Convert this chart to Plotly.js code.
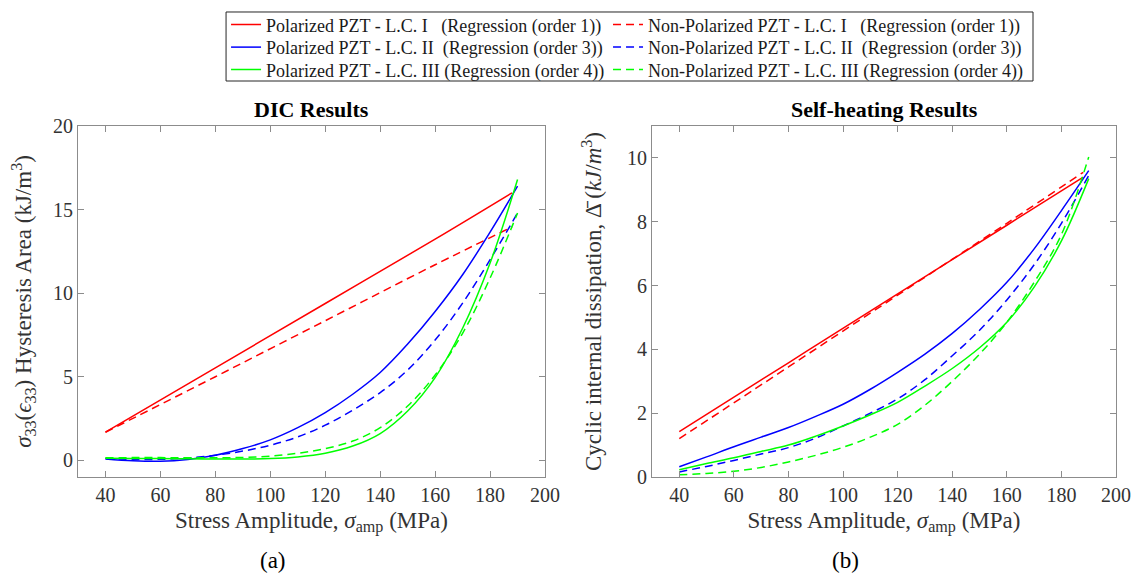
<!DOCTYPE html>
<html>
<head>
<meta charset="utf-8">
<script src="https://cdn.plot.ly/plotly-3.0.1.min.js"></script>
<style>html,body{margin:0;padding:0;background:#fff;}</style>
</head>
<body>
<div id="chart" style="width:1137px;height:574px;"></div>
<script>
// ---- data ----
const xStress = [40, 50, 60, 70, 80, 90, 100, 110, 120, 130, 140, 150, 160, 170, 180, 190];
const xLinear = [40, 80, 120, 160, 188];

// (a) DIC results : hysteresis area (kJ/m^3)
const dicPolI    = [1.68, 5.53, 9.38, 13.23, 16.0];
const dicNonI    = [1.68, 5.0, 8.35, 11.7, 13.96];
const dicPolII   = [0.08, -0.03, -0.06, 0.05, 0.3, 0.7, 1.22, 1.95, 2.85, 3.95, 5.25, 6.95, 8.9, 11.1, 13.65, 16.4];
const dicNonII   = [0.1, 0.05, 0.06, 0.14, 0.3, 0.55, 0.9, 1.4, 2.1, 3.0, 4.05, 5.4, 7.2, 9.4, 12.0, 14.8];
const dicPolIII  = [0.12, 0.11, 0.1, 0.09, 0.08, 0.08, 0.1, 0.2, 0.42, 0.85, 1.6, 2.95, 4.95, 7.9, 11.8, 16.8];
const dicNonIII  = [0.15, 0.16, 0.16, 0.15, 0.15, 0.17, 0.25, 0.42, 0.7, 1.15, 1.95, 3.25, 5.1, 7.6, 10.9, 14.8];

// (b) Self-heating results : cyclic internal dissipation (kJ/m^3)
const shPolI     = [1.42, 3.58, 5.74, 7.89, 9.4];
const shNonI     = [1.2, 3.45, 5.7, 7.95, 9.55];
const shPolII    = [0.32, 0.63, 0.95, 1.25, 1.55, 1.9, 2.28, 2.75, 3.28, 3.85, 4.5, 5.25, 6.1, 7.15, 8.35, 9.6];
const shNonII    = [0.16, 0.33, 0.52, 0.72, 0.92, 1.22, 1.6, 2.0, 2.45, 3.05, 3.8, 4.6, 5.55, 6.65, 7.95, 9.45];
const shPolIII   = [0.23, 0.42, 0.6, 0.8, 1.0, 1.28, 1.6, 1.95, 2.34, 2.85, 3.4, 4.05, 4.85, 5.95, 7.4, 9.35];
const shNonIII   = [0.07, 0.11, 0.18, 0.3, 0.47, 0.68, 0.93, 1.25, 1.65, 2.25, 3.0, 3.85, 4.85, 6.1, 7.6, 10.03];

const seriesNames = [
  'Polarized PZT - L.C. I\u00a0\u00a0\u00a0(Regression (order 1))',
  'Non-Polarized PZT - L.C. I\u00a0\u00a0\u00a0(Regression (order 1))',
  'Polarized PZT - L.C. II\u00a0\u00a0(Regression (order 3))',
  'Non-Polarized PZT - L.C. II\u00a0\u00a0(Regression (order 3))',
  'Polarized PZT - L.C. III (Regression (order 4))',
  'Non-Polarized PZT - L.C. III (Regression (order 4))'
];
const seriesColors = ['#ff0000', '#ff0000', '#0000ff', '#0000ff', '#00ff00', '#00ff00'];
const seriesDash = ['solid', '8px,5px', 'solid', '8px,5px', 'solid', '8px,5px'];

const xTicks = [40, 60, 80, 100, 120, 140, 160, 180, 200];

// ---- build traces ----
const FONT = 'Liberation Serif';
const legendIds = ['legend', 'legend2', 'legend3', 'legend4', 'legend5', 'legend6'];
const dicY = [dicPolI, dicNonI, dicPolII, dicNonII, dicPolIII, dicNonIII];
const shY  = [shPolI, shNonI, shPolII, shNonII, shPolIII, shNonIII];
const traces = [];
for (let i = 0; i < 6; i++) {
  const xs = (i < 2) ? xLinear : xStress;
  traces.push({
    x: xs, y: dicY[i], type: 'scatter', mode: 'lines', name: seriesNames[i],
    line: {color: seriesColors[i], width: 1.5, dash: seriesDash[i], shape: 'spline', smoothing: 1},
    xaxis: 'x', yaxis: 'y', legend: legendIds[i], showlegend: true
  });
}
for (let i = 0; i < 6; i++) {
  const xs = (i < 2) ? xLinear : xStress;
  traces.push({
    x: xs, y: shY[i], type: 'scatter', mode: 'lines', name: seriesNames[i],
    line: {color: seriesColors[i], width: 1.5, dash: seriesDash[i], shape: 'spline', smoothing: 1},
    xaxis: 'x2', yaxis: 'y2', legend: legendIds[i], showlegend: false
  });
}

const axisCommon = {
  showline: true, linecolor: '#8c8c8c', linewidth: 1, mirror: 'ticks',
  ticks: 'inside', ticklen: 6, tickcolor: '#8c8c8c', tickwidth: 1,
  showgrid: false, zeroline: false,
  tickfont: {family: FONT, size: 20, color: '#333333'},
  automargin: false
};

const xTitle = 'Stress Amplitude, <i>σ</i><sub>amp</sub> (MPa)';
const titleFont = {family: FONT, size: 23, color: '#333333'};

const layout = {
  width: 1137, height: 574,
  margin: {l: 78, r: 0, t: 126, b: 97},
  paper_bgcolor: '#ffffff', plot_bgcolor: '#ffffff',
  font: {family: FONT, color: '#262626'},
  showlegend: true,
  shapes: [
    {type: 'rect', xref: 'paper', yref: 'paper', x0: 0.1398, x1: 0.9018, y0: 1.1282, y1: 1.3248,
     line: {color: '#262626', width: 1}, fillcolor: 'rgba(0,0,0,0)', layer: 'above'}
  ],
  xaxis: Object.assign({}, axisCommon, {
    domain: [0, 0.441], range: [30, 200], tickvals: xTicks, anchor: 'y',
    title: {text: xTitle, font: titleFont, standoff: 6}
  }),
  yaxis: Object.assign({}, axisCommon, {
    domain: [0, 1], range: [-1, 20], dtick: 5, tick0: 0, anchor: 'x',
    title: {text: '<i>σ</i><sub>33</sub>(<i>ϵ</i><sub>33</sub>) Hysteresis Area (kJ/m<sup>3</sup>)', font: titleFont, standoff: 14}
  }),
  xaxis2: Object.assign({}, axisCommon, {
    domain: [0.542, 0.9802], range: [30, 200], tickvals: xTicks, anchor: 'y2',
    title: {text: xTitle, font: titleFont, standoff: 6}
  }),
  yaxis2: Object.assign({}, axisCommon, {
    domain: [0, 1], range: [0, 11], dtick: 2, tick0: 0, anchor: 'x2',
    title: {text: 'Cyclic internal dissipation, Δ̄ (<i>kJ</i>/<i>m</i><sup>3</sup>)', font: titleFont, standoff: 18}
  }),
  annotations: [
    {text: '<b>DIC Results</b>', xref: 'x domain', yref: 'paper', x: 0.5, y: 1.0456, xanchor: 'center', yanchor: 'middle', showarrow: false, font: {family: FONT, size: 22, color: '#000000'}},
    {text: '<b>Self-heating Results</b>', xref: 'x2 domain', yref: 'paper', x: 0.5, y: 1.0456, xanchor: 'center', yanchor: 'middle', showarrow: false, font: {family: FONT, size: 22, color: '#000000'}},
    {text: '(a)', xref: 'x domain', yref: 'paper', x: 0.4176, y: -0.2365, xanchor: 'center', yanchor: 'middle', showarrow: false, font: {family: FONT, size: 23, color: '#000000'}},
    {text: '(b)', xref: 'x2 domain', yref: 'paper', x: 0.418, y: -0.2365, xanchor: 'center', yanchor: 'middle', showarrow: false, font: {family: FONT, size: 23, color: '#000000'}}
  ]
};

// one legend per entry, laid out in a 2-column x 3-row grid inside the box
const legendCols = [0.1398, 0.5005];
const legendRows = [1.3407, 1.2766, 1.2125];
for (let i = 0; i < 6; i++) {
  layout[legendIds[i]] = {
    orientation: 'v', xanchor: 'left', yanchor: 'top',
    x: legendCols[i % 2], y: legendRows[Math.floor(i / 2)],
    bgcolor: 'rgba(0,0,0,0)', borderwidth: 0,
    font: {family: FONT, size: 18, color: '#1a1a1a'},
    itemwidth: 30, traceorder: 'normal', tracegroupgap: 0
  };
}

Plotly.newPlot('chart', traces, layout, {displayModeBar: false, staticPlot: true});
</script>
</body>
</html>
